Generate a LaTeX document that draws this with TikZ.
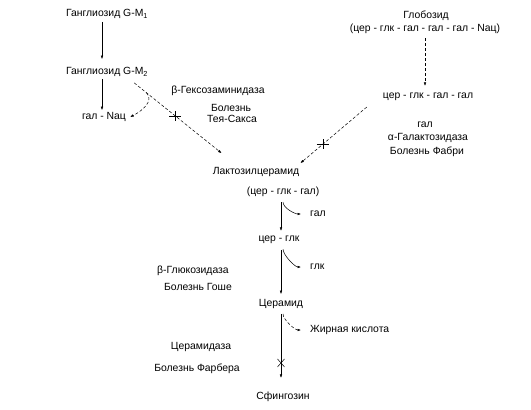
\documentclass[tikz,border=0pt]{standalone}
\usepackage{fontspec}
\setmainfont{Liberation Sans}
\usetikzlibrary{arrows.meta}
\usetikzlibrary{calc}

\begin{document}
\begin{tikzpicture}[x=1pt, y=-1pt,
      lbl/.style={inner sep=1pt, font=\fontsize{10.4}{12}\selectfont},
      arr/.style={-{Latex[length=3.5pt,width=2.6pt]}, line width=0.5pt},
      darr/.style={arr, dash pattern=on 3pt off 2pt},
      block/.style={line width=0.5pt}]
      \useasboundingbox (0,0) rectangle (531,410);

      % gangliosides (left)
      \node[lbl] (gm1) at (107,14) {Ганглиозид G-M\textsubscript{1}};
      \node[lbl] (gm2) at (107,72) {Ганглиозид G-M\textsubscript{2}};
      \node[lbl] (galnac) at (104,117) {гал - Nац};
      \node[lbl] (hex) at (218,91) {β-Гексозаминидаза};
      \node[lbl] (tsA) at (231,108) {Болезнь};
      \node[lbl] (tsB) at (232,119) {Тея-Сакса};

      % globoside (right)
      \node[lbl] (glob) at (426,16) {Глобозид};
      \node[lbl] (globB) at (425,29) {(цер - глк - гал - гал - гал - Nац)};
      \node[lbl] (cggg) at (428,97) {цер - глк - гал - гал};
      \node[lbl] (galR) at (425,125) {гал};
      \node[lbl] (agal) at (428,138) {α-Галактозидаза};
      \node[lbl] (fab) at (427,152) {Болезнь Фабри};

      % main column
      \node[lbl] (lac) at (256,172) {Лактозилцерамид};
      \node[lbl] (cgg) at (283,192) {(цер - глк - гал)};
      \node[lbl] (cg) at (279,240) {цер - глк};
      \node[lbl] (cer) at (281,304) {Церамид};
      \node[lbl] (sph) at (283,397) {Сфингозин};

      % side products
      \node[lbl, anchor=west] (galC) at (309,214) {гал};
      \node[lbl, anchor=west] (glk) at (309,267) {глк};
      \node[lbl, anchor=west] (fa) at (309,330) {Жирная кислота};

      % enzymes and diseases
      \node[lbl] (bglu) at (193,271) {β-Глюкозидаза};
      \node[lbl] (gau) at (198,287) {Болезнь Гоше};
      \node[lbl] (cdase) at (201,347) {Церамидаза};
      \node[lbl] (farb) at (197,369) {Болезнь Фарбера};

      % arrows
      \draw[arr, shorten <=2pt, shorten >=7pt] ([xshift=-5pt]gm1.south) -- ([xshift=-5pt]gm2.north);
      \draw[arr, shorten <=1pt, shorten >=1pt] ([xshift=-5pt]gm2.south) -- ([xshift=-5pt]gm2.south |- galnac.north);
      \draw[darr] ([shift={(-15,5)}]gm2.south east) coordinate (tsS)
            -- ([shift={(10,-13)}]lac.north west) coordinate (tsE);
      \draw[arr, densely dashed] ($(tsS)!0.14!(tsE)$) .. controls +(8,8) and +(12,-6) .. ([xshift=3pt]galnac.east);
      \draw[block] ($(tsS)!0.47!(tsE)$) +(-6,0) -- +(6,0) +(0,-5) -- +(0,5);

      \draw[darr, shorten <=3pt, shorten >=6pt] (globB.south) -- (globB.south |- cggg.north);
      \draw[darr] ([shift={(-15,5)}]cggg.south west) coordinate (fbS)
            -- ([shift={(0,-3)}]lac.north east) coordinate (fbE);
      \draw[block] ($(fbS)!0.66!(fbE)$) +(-6,0) -- +(6,0) +(0,-5) -- +(0,5);

      \draw[arr, shorten <=4pt, shorten >=4pt] ([xshift=-2pt]cgg.south) coordinate (a1) -- (a1 |- cg.north);
      \draw[arr] ([shift={(2,4)}]a1) .. controls +(0,6) and +(-6,0) .. ([xshift=-8pt]galC.west);
      \draw[arr, shorten <=5pt, shorten >=4pt] ([xshift=2pt]cg.south) coordinate (a2) -- (a2 |- cer.north);
      \draw[arr] ([shift={(2,4)}]a2) .. controls +(0,6) and +(-6,0) .. ([xshift=-8pt]glk.west);
      \draw[arr, shorten <=4pt, shorten >=13pt] (cer.south) coordinate (a3) -- (a3 |- sph.north);
      \draw[arr, densely dashed] ([shift={(2,4)}]a3) .. controls +(0,6) and +(-6,0) .. ([xshift=-8pt]fa.west);
      \draw[block] ($(a3 |- sph.north)+(0,-28)$) +(-3.5,-4) -- +(3.5,4) +(3.5,-4) -- +(-3.5,4);
\end{tikzpicture}
\end{document}
